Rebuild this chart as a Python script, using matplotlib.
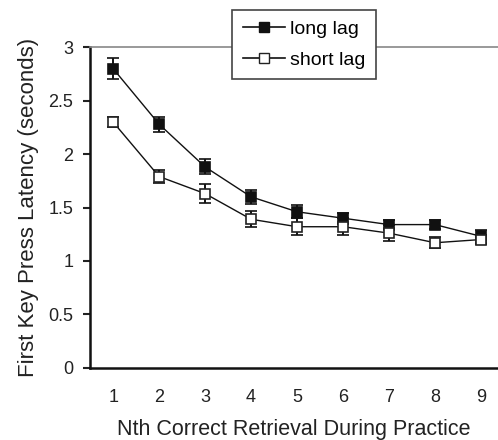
import matplotlib.pyplot as plt
from matplotlib.lines import Line2D

plt.rcParams["font.family"] = ["Liberation Sans", "DejaVu Sans"]

# Data
retrieval = [1, 2, 3, 4, 5, 6, 7, 8, 9]
long_lag = [2.80, 2.28, 1.88, 1.60, 1.46, 1.40, 1.34, 1.34, 1.23]
long_err = [0.10, 0.07, 0.07, 0.065, 0.06, 0.05, 0.04, 0.045, 0.06]
short_lag = [2.30, 1.79, 1.63, 1.39, 1.32, 1.32, 1.26, 1.17, 1.20]
short_err = [0.05, 0.06, 0.09, 0.075, 0.08, 0.08, 0.075, 0.05, 0.04]
yticks = [0, 0.5, 1, 1.5, 2, 2.5, 3]
ytick_labels = ["0", "0.5", "1", "1.5", "2", "2.5", "3"]

fig = plt.figure(figsize=(4.98, 4.40), dpi=100)
ax = fig.add_axes([0.181, 0.1643, 0.819, 0.7282])

common = dict(color="#111111", lw=1.0, capsize=4.5, capthick=1.6,
              elinewidth=1.4, markersize=7.5, markeredgewidth=1.2)
ax.errorbar(retrieval, long_lag, yerr=long_err, marker="s",
            markerfacecolor="#111111", markeredgecolor="#111111", **common)
ax.errorbar(retrieval, short_lag, yerr=short_err, marker="s",
            markerfacecolor="white", markeredgecolor="#222222", **common)

ax.set_xlim(0.5, 9.37)
ax.set_ylim(0, 3)
ax.set_yticks(yticks)
ax.set_yticklabels(ytick_labels)
ax.set_xticks(retrieval)
ax.tick_params(axis="x", length=0, pad=15, labelsize=13, colors="#222222")
ax.tick_params(axis="y", length=5, width=1.5, pad=7, labelsize=13,
               colors="#222222", direction="out")

ax.spines["right"].set_visible(False)
ax.spines["top"].set_color("#888888")
ax.spines["top"].set_linewidth(1.2)
for side in ["left", "bottom"]:
    ax.spines[side].set_linewidth(1.8)
    ax.spines[side].set_color("#111111")

ax.set_xlabel("Nth Correct Retrieval During Practice", fontsize=15.5,
              color="#222222", labelpad=10)
ax.set_ylabel("First Key Press Latency (seconds)", fontsize=16,
              color="#222222", labelpad=7)

handles = [
    Line2D([], [], color="#111111", lw=1.2, marker="s", markersize=7.5,
           markerfacecolor="#111111", markeredgecolor="#111111"),
    Line2D([], [], color="#111111", lw=1.2, marker="s", markersize=7.5,
           markerfacecolor="white", markeredgecolor="#222222"),
]
leg = fig.legend(handles, ["long lag", "short lag"], loc="upper left",
                 bbox_to_anchor=(232 / 498, 1 - 10 / 440),
                 fontsize=14, frameon=True, fancybox=False,
                 edgecolor="#444444", framealpha=1, handlelength=2.2,
                 handletextpad=0.25, borderpad=0.55, labelspacing=0.65,
                 borderaxespad=0)
leg.get_frame().set_linewidth(1.2)
leg.set_zorder(5)

fig.savefig("out.png", dpi=100)
